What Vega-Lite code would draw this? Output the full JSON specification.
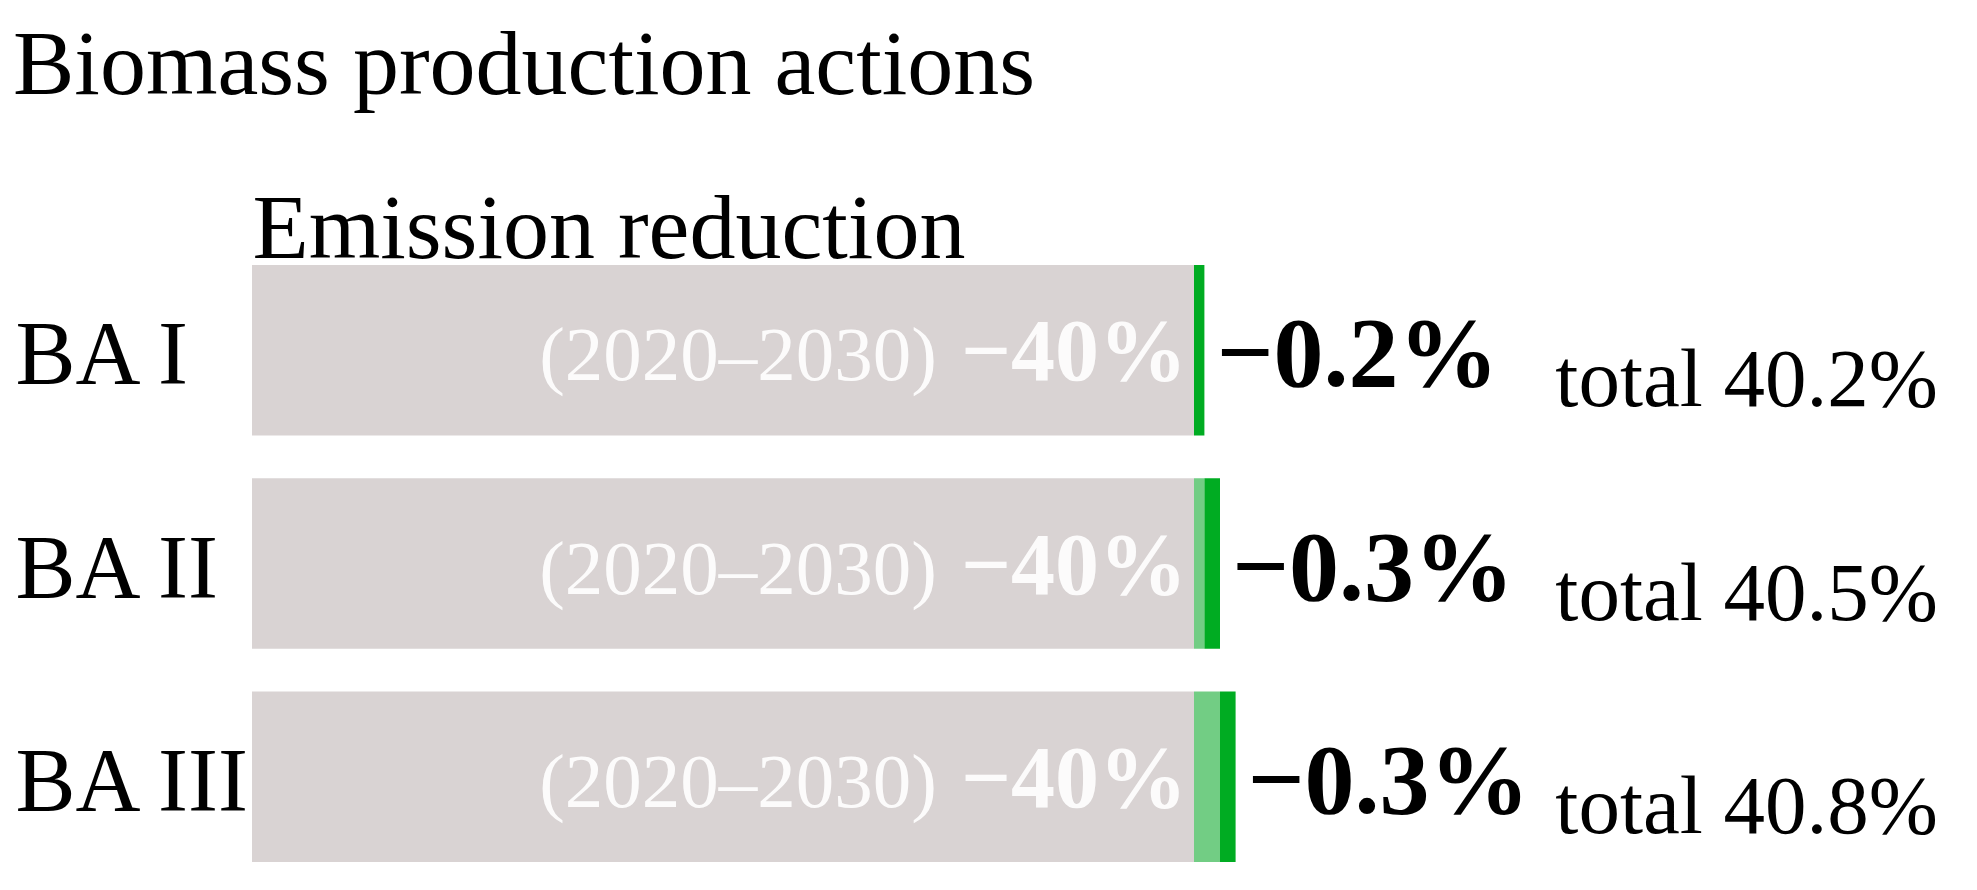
{
  "$schema": "https://vega.github.io/schema/vega-lite/v6.json",
  "autosize": {"type": "none"},
  "width": 1686,
  "height": 597,
  "padding": {"left": 252, "top": 265, "right": 39, "bottom": 28},
  "background": "white",
  "config": {
    "view": {"stroke": null},
    "font": "Liberation Serif",
    "axisX": {
      "orient": "top",
      "labels": false,
      "ticks": false,
      "domain": false,
      "grid": false,
      "titleFont": "Liberation Serif",
      "titleFontSize": 92,
      "titleFontWeight": "normal",
      "titleColor": "black",
      "titleAnchor": "start",
      "titleAlign": "left",
      "titleBaseline": "alphabetic",
      "titleX": 0,
      "titleY": -8
    }
  },
  "title": {
    "text": "Biomass production actions",
    "anchor": "start",
    "frame": "group",
    "font": "Liberation Serif",
    "fontSize": 92,
    "fontWeight": "normal",
    "color": "black",
    "baseline": "alphabetic",
    "dx": -239,
    "dy": 13,
    "offset": 10
  },
  "datasets": {
    "segments": [
      {"ba": "BA I", "part": "Target 2020–2030", "start": 0, "end": 40},
      {"ba": "BA I", "part": "This action", "start": 40, "end": 40.2},
      {"ba": "BA II", "part": "Target 2020–2030", "start": 0, "end": 40},
      {"ba": "BA II", "part": "Earlier actions", "start": 40, "end": 40.2},
      {"ba": "BA II", "part": "This action", "start": 40.2, "end": 40.5},
      {"ba": "BA III", "part": "Target 2020–2030", "start": 0, "end": 40},
      {"ba": "BA III", "part": "Earlier actions", "start": 40, "end": 40.5},
      {"ba": "BA III", "part": "This action", "start": 40.5, "end": 40.8}
    ],
    "actions": [
      {"ba": "BA I", "target": 40, "change": 0.2, "end": 40.2, "total": 40.2},
      {"ba": "BA II", "target": 40, "change": 0.3, "end": 40.5, "total": 40.5},
      {"ba": "BA III", "target": 40, "change": 0.3, "end": 40.8, "total": 40.8}
    ]
  },
  "encoding": {
    "y": {
      "field": "ba",
      "type": "nominal",
      "sort": ["BA I", "BA II", "BA III"],
      "scale": {"paddingInner": 0.2, "paddingOuter": 0},
      "axis": {
        "title": null,
        "domain": false,
        "ticks": false,
        "tickSize": 0,
        "grid": false,
        "labelAlign": "left",
        "labelPadding": 237,
        "labelFont": "Liberation Serif",
        "labelFontSize": 90,
        "labelColor": "black",
        "labelBaseline": "alphabetic",
        "labelOffset": 34,
        "labelLimit": 0
      }
    }
  },
  "layer": [
    {
      "data": {"name": "segments"},
      "mark": {"type": "bar"},
      "encoding": {
        "x": {
          "field": "start",
          "type": "quantitative",
          "title": "Emission reduction",
          "scale": {"domain": [0, 40, 41, 42], "range": [0, 942, 994, 1686], "nice": false, "zero": false}
        },
        "x2": {"field": "end"},
        "color": {
          "field": "part",
          "type": "nominal",
          "scale": {"domain": ["Target 2020–2030", "Earlier actions", "This action"], "range": ["#D9D3D3", "#72CD84", "#00AC22"]},
          "legend": null
        }
      }
    },
    {
      "data": {"name": "actions"},
      "mark": {"type": "text", "align": "right", "baseline": "alphabetic", "dx": -257, "dy": 30, "font": "Liberation Serif", "fontSize": 77, "fill": "white", "opacity": 0.92, "text": "(2020–2030)"},
      "encoding": {
        "x": {"field": "target", "type": "quantitative", "title": "Emission reduction"}
      }
    },
    {
      "data": {"name": "actions"},
      "transform": [{"calculate": "'\u2212' + format(datum.target, '.0f') + '%'", "as": "targetLabel"}],
      "mark": {"type": "text", "align": "right", "baseline": "alphabetic", "dx": -7, "dy": 30, "font": "Liberation Serif", "fontSize": 88, "fontWeight": "bold", "fill": "white", "opacity": 0.92},
      "encoding": {
        "x": {"field": "target", "type": "quantitative", "title": "Emission reduction"},
        "text": {"field": "targetLabel", "type": "nominal"}
      }
    },
    {
      "data": {"name": "actions"},
      "transform": [{"calculate": "'\u2212' + format(datum.change, '.1f') + '%'", "as": "changeLabel"}],
      "mark": {"type": "text", "align": "left", "baseline": "alphabetic", "dx": 12, "dy": 36, "font": "Liberation Serif", "fontSize": 100, "fontWeight": "bold", "fill": "black"},
      "encoding": {
        "x": {"field": "end", "type": "quantitative", "title": "Emission reduction"},
        "text": {"field": "changeLabel", "type": "nominal"}
      }
    },
    {
      "data": {"name": "actions"},
      "transform": [{"calculate": "'total ' + format(datum.total, '.1f') + '%'", "as": "totalLabel"}],
      "mark": {"type": "text", "align": "right", "baseline": "alphabetic", "dy": 56, "font": "Liberation Serif", "fontSize": 83, "fill": "black"},
      "encoding": {
        "x": {"datum": 42, "type": "quantitative", "title": "Emission reduction"},
        "text": {"field": "totalLabel", "type": "nominal"}
      }
    }
  ]
}
